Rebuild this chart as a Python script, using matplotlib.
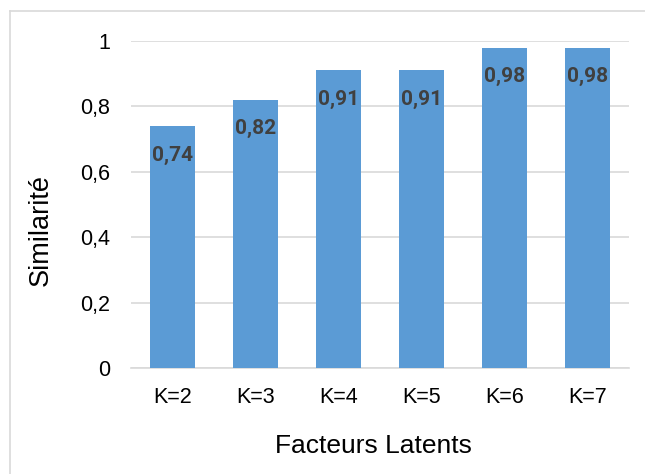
import matplotlib
matplotlib.use("Agg")
import matplotlib.pyplot as plt
from matplotlib.lines import Line2D

categories = ["K=2", "K=3", "K=4", "K=5", "K=6", "K=7"]
similarity = [0.74, 0.82, 0.91, 0.91, 0.98, 0.98]
yticks = [0, 0.2, 0.4, 0.6, 0.8, 1.0]
ytick_labels = ["0", "0,2", "0,4", "0,6", "0,8", "1"]

W, H = 645, 474
fig = plt.figure(figsize=(W / 100, H / 100), dpi=100)
ax = fig.add_axes([131 / W, 1 - 368 / H, (629 - 131) / W, (368 - 41) / H])

x = range(len(categories))
bars = ax.bar(x, similarity, width=0.55, color="#5B9BD5", zorder=3)

for rect, v in zip(bars, similarity):
    ax.annotate(f"{v:.2f}".replace(".", ","),
                (rect.get_x() + rect.get_width() / 2, v),
                xytext=(0, -29), textcoords="offset pixels",
                ha="center", va="center", fontsize=15, fontweight="bold",
                color="#404040", family=["Roboto", "DejaVu Sans"])

ax.set_xlim(-0.5, len(categories) - 0.5)
ax.set_ylim(0, 1)
ax.set_yticks(yticks)
ax.set_yticklabels(ytick_labels)
ax.set_xticks(list(x))
ax.set_xticklabels(categories)
ax.yaxis.grid(True, color="#D9D9D9", linewidth=1.2, zorder=0)
ax.tick_params(length=0, labelsize=15.5, colors="black")
ax.tick_params(axis="x", pad=14)
ax.tick_params(axis="y", pad=15)
for lab in ax.get_xticklabels() + ax.get_yticklabels():
    lab.set_family("Liberation Sans")
for s in ["top", "right", "left"]:
    ax.spines[s].set_visible(False)
ax.spines["bottom"].set_color("#D9D9D9")
ax.spines["bottom"].set_linewidth(1.2)

fig.text(373 / W, 1 - 446 / H, "Facteurs Latents", ha="center", va="center",
         fontsize=19, family="Liberation Sans")
fig.text(41 / W, 1 - 230 / H, "Similarité", ha="center", va="center",
         rotation=90, fontsize=19.5, family="Liberation Sans")

# outer chart border (top and left visible)
fig.add_artist(Line2D([10 / W, 1], [1 - 11 / H, 1 - 11 / H], color="#D9D9D9", lw=1.2))
fig.add_artist(Line2D([10 / W, 10 / W], [0, 1 - 11 / H], color="#D9D9D9", lw=1.2))

fig.savefig("out.png", dpi=100)
